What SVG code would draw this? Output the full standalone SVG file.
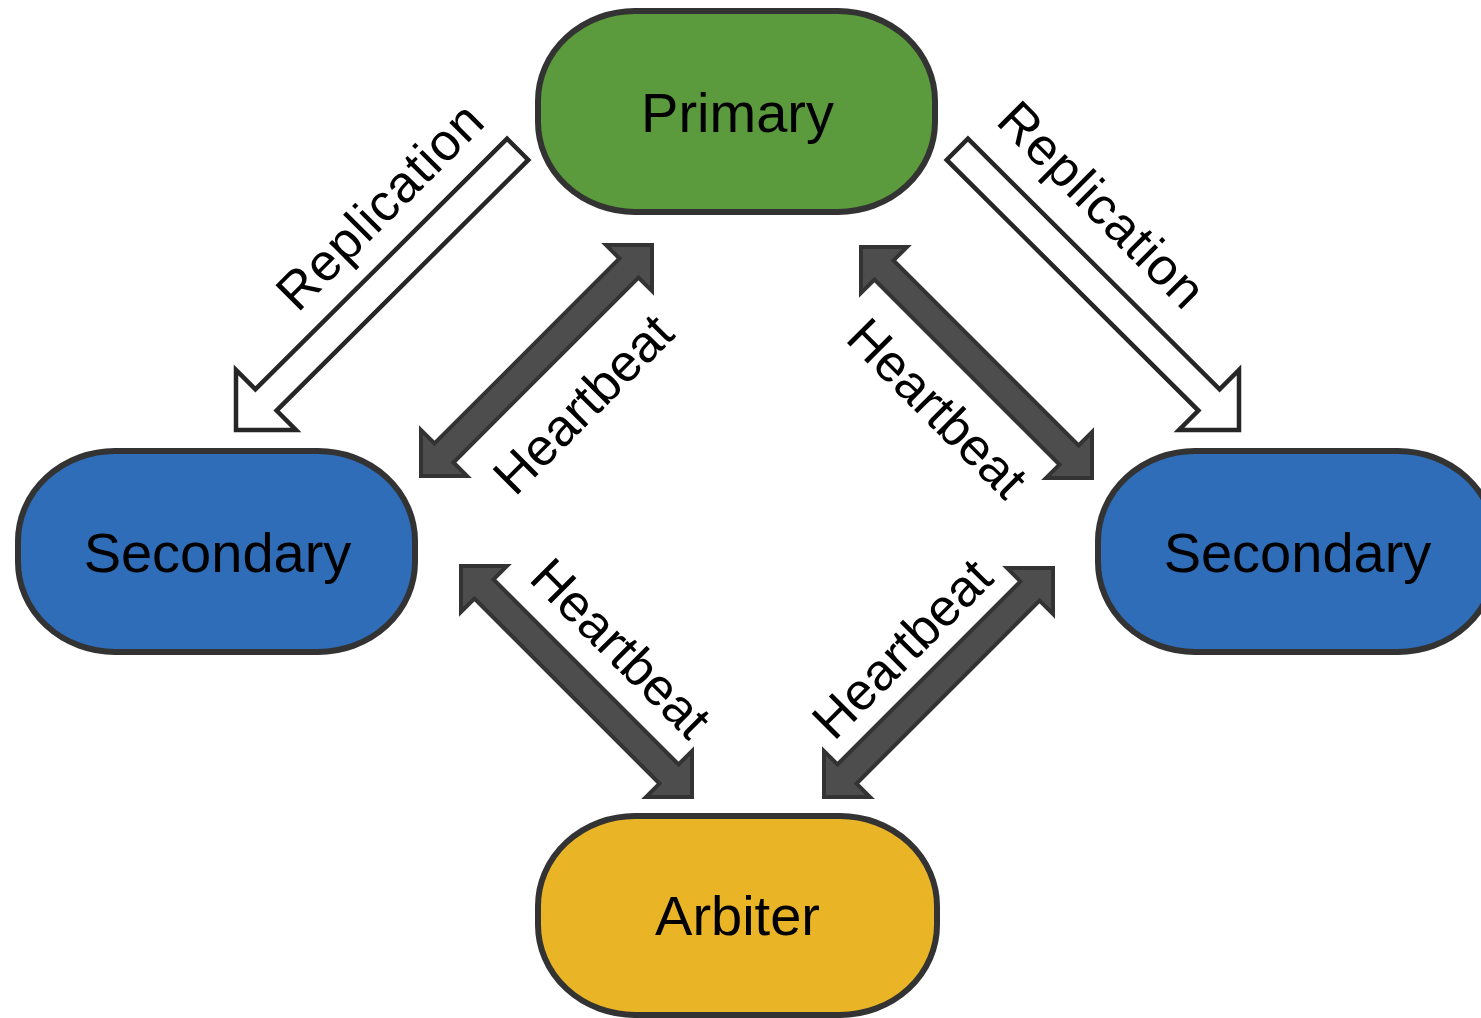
<svg xmlns="http://www.w3.org/2000/svg" width="1481" height="1018" viewBox="0 0 1481 1018">
<style>
.node rect{stroke:#333;stroke-width:6}
.node text{font-family:"Liberation Sans",Arial,sans-serif;font-size:56px;fill:#000;text-anchor:middle}
.rep{fill:#fff;stroke:#262626;stroke-width:4.5;stroke-linejoin:miter}
.hb{fill:#4d4d4d;stroke:#333;stroke-width:4;stroke-linejoin:miter}
.lbl{font-family:"Liberation Sans",Arial,sans-serif;font-size:52px;fill:#000;text-anchor:middle}
.lbl.r{letter-spacing:1px}
</style>
<rect width="1481" height="1018" fill="#fff"/>
<g id="connectors">
  <polygon class="rep" points="507.1,138.7 255.4,389.4 236,370 236,430 296,430 276.6,410.6 528.3,159.9"/>
  <polygon class="rep" points="967.9,138.7 1219.6,389.4 1239,370 1239,430 1179,430 1198.4,410.6 946.7,159.9"/>
  <polygon class="hb" points="421,476 467,476 453.5,462.5 638.5,277.5 652,291 652,245 606,245 619.5,258.5 434.5,443.5 421,430"/>
  <polygon class="hb" points="861,247 861,293 874.45,279.55 1059.45,464.55 1046,478 1092,478 1092,432 1078.55,445.45 893.55,260.45 907,247"/>
  <polygon class="hb" points="461,566 461,612 474.45,598.55 659.45,783.55 646,797 692,797 692,751 678.55,764.45 493.55,579.45 507,566"/>
  <polygon class="hb" points="824,797 870,797 856.55,783.55 1039.55,600.55 1053,614 1053,568 1007,568 1020.45,581.45 837.45,764.45 824,751"/>
  <g transform="translate(383,209) rotate(-45)"><text class="lbl r" x="0" y="13.5">Replication</text></g>
  <g transform="translate(1099,208) rotate(45)"><text class="lbl r" x="0" y="13.5">Replication</text></g>
  <g transform="translate(582.5,403.5) rotate(-45)"><text class="lbl" x="0" y="18.7">Heartbeat</text></g>
  <g transform="translate(938,407.5) rotate(45)"><text class="lbl" x="0" y="18.7">Heartbeat</text></g>
  <g transform="translate(621.5,647.5) rotate(45)"><text class="lbl" x="0" y="18.7">Heartbeat</text></g>
  <g transform="translate(901.5,648) rotate(-45)"><text class="lbl" x="0" y="18.7">Heartbeat</text></g>
</g>
<g id="primary" class="node">
  <rect x="538" y="11" width="397" height="201" rx="97" ry="90" fill="#5b9a3d"/>
  <text x="737.5" y="132">Primary</text>
</g>
<g id="secondary-left" class="node">
  <rect x="18" y="451" width="397" height="201" rx="97" ry="90" fill="#2f6db8"/>
  <text x="217.5" y="572">Secondary</text>
</g>
<g id="secondary-right" class="node">
  <rect x="1098" y="451" width="397" height="201" rx="97" ry="90" fill="#2f6db8"/>
  <text x="1297.5" y="572">Secondary</text>
</g>
<g id="arbiter" class="node">
  <rect x="538" y="816" width="399" height="199" rx="97" ry="90" fill="#e9b526"/>
  <text x="737.5" y="935">Arbiter</text>
</g>
</svg>
